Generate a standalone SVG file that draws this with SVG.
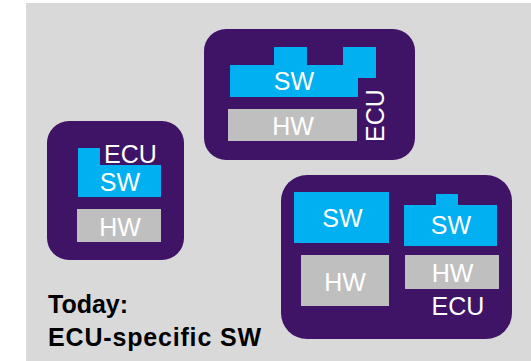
<svg xmlns="http://www.w3.org/2000/svg" width="531" height="361" viewBox="0 0 531 361">
  <style>
    .ecu { fill: #3f1467; }
    .sw { fill: #00b0f0; }
    .hw { fill: #bfbfbf; }
    .lbl { font-family: "Liberation Sans", Arial, sans-serif; font-size: 25px; fill: #ffffff; text-anchor: middle; }
    .title { font-family: "Liberation Sans", Arial, sans-serif; font-size: 25px; font-weight: bold; fill: #000000; }
  </style>

  <!-- backdrop -->
  <rect x="0" y="0" width="531" height="361" fill="#ffffff"/>
  <rect x="26" y="3" width="505" height="358" fill="#d9d9d9"/>

  <!-- ECU with stacked SW -->
  <g id="ecu-top">
    <rect class="ecu" x="204" y="29" width="211" height="131" rx="22"/>
    <polygon class="sw" points="230,65 274,65 274,47 307,47 307,65 343,65 343,47 376,47 376,78 358,78 358,97 230,97"/>
    <rect class="hw" x="228" y="109" width="129" height="32"/>
    <text class="lbl" x="294" y="90">SW</text>
    <text class="lbl" x="293" y="135">HW</text>
    <text class="lbl" transform="translate(384,115.5) rotate(-90)">ECU</text>
  </g>

  <!-- small ECU -->
  <g id="ecu-left">
    <rect class="ecu" x="47" y="121" width="137" height="139" rx="22"/>
    <polygon class="sw" points="78,148 100,148 100,165 161,165 161,197 78,197"/>
    <rect class="hw" x="77" y="209" width="84" height="33"/>
    <text class="lbl" x="130.5" y="163">ECU</text>
    <text class="lbl" x="120" y="191">SW</text>
    <text class="lbl" x="120" y="236">HW</text>
  </g>

  <!-- ECU hosting two SW/HW stacks -->
  <g id="ecu-right">
    <rect class="ecu" x="281" y="175" width="231" height="164" rx="26"/>
    <rect class="sw" x="294" y="192" width="95" height="51"/>
    <rect class="hw" x="301" y="255" width="88" height="51"/>
    <polygon class="sw" points="404,205 436,205 436,194 458,194 458,205 497,205 497,246 404,246"/>
    <rect class="hw" x="405" y="255" width="94" height="34"/>
    <text class="lbl" x="342.5" y="227">SW</text>
    <text class="lbl" x="345" y="291">HW</text>
    <text class="lbl" x="451" y="234">SW</text>
    <text class="lbl" x="452.5" y="282">HW</text>
    <text class="lbl" x="458" y="315">ECU</text>
  </g>

  <!-- caption -->
  <g id="caption">
    <text class="title" x="48" y="313">Today:</text>
    <text class="title" x="48" y="346" textLength="213" lengthAdjust="spacing">ECU-specific SW</text>
  </g>
</svg>
